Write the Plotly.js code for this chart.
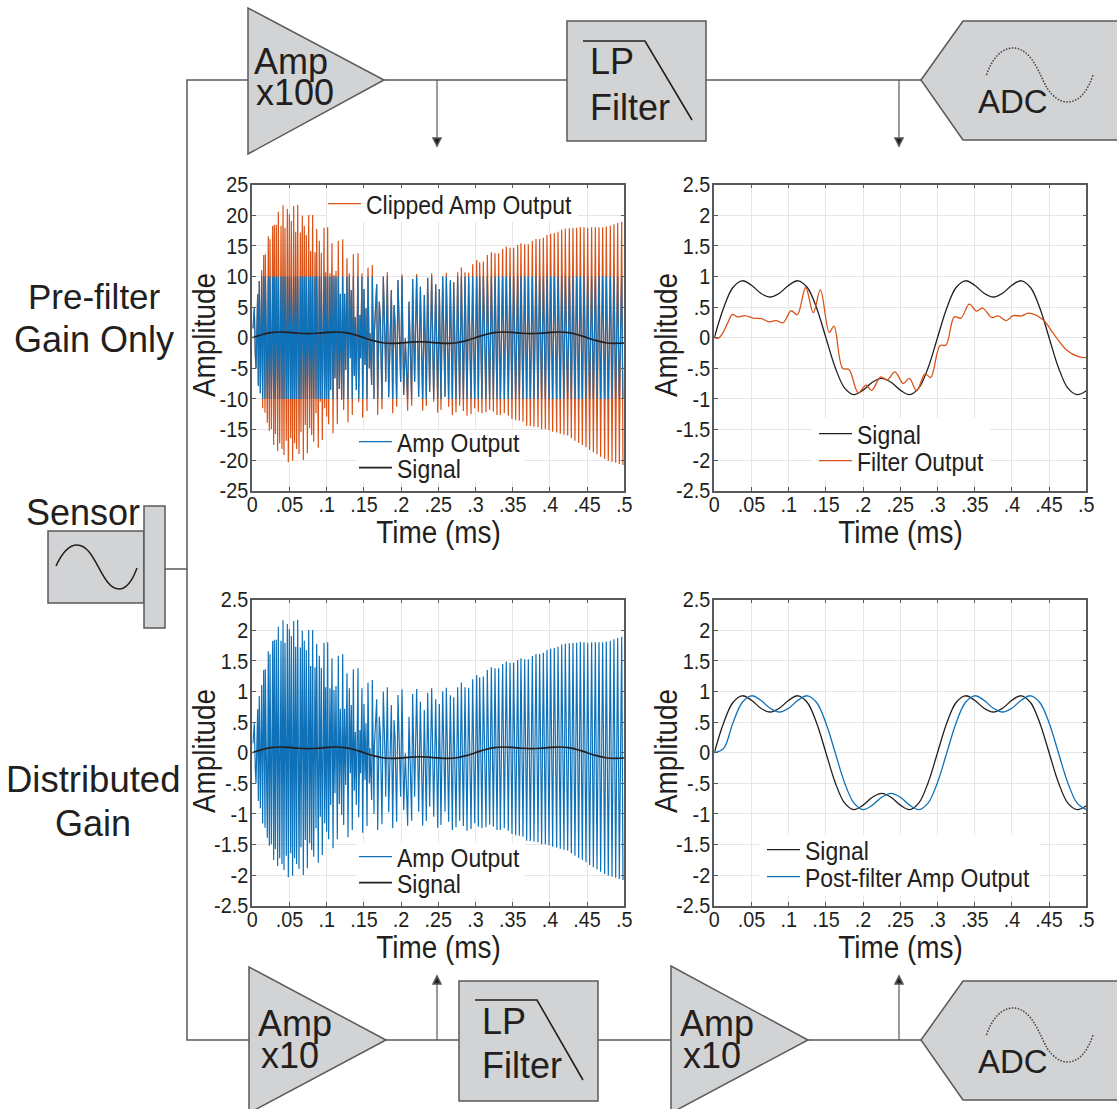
<!DOCTYPE html>
<html>
<head>
<meta charset="utf-8">
<script src="https://cdn.plot.ly/plotly-3.0.1.min.js"></script>
<style>html,body{margin:0;padding:0;background:#fff}#chart{width:1117px;height:1109px}</style>
</head>
<body>
<div id="chart"></div>
<script>
// ---- data ----
const upperTimes = [.0009,.0027,.0072,.0094,.0126,.0153,.0175,.0215,.0238,.0274,.0296,.0323,.0350,.0386,.0413,.0439,.0471,.0498,.0525,.0556,.0583,.0610,.0646,.0672,.0699,.0726,.0758,.0784,.0811,.0843,.0865,.0901,.0928,.0964,.0986,.1013,.1044,.1071,.1098,.1125,.1156,.1183,.1215,.1241,.1273,.1304,.1331,.1358,.1385,.1421,.1447,.1474,.1501,.1528,.1555,.1582,.1613,.1640,.1672,.1707,.1721,.1761,.1788,.1815,.1869,.1905,.1918,.1958,.2012,.2057,.2106,.2155,.2209,.2259,.2312,.2357,.2411,.2465,.2514,.2559,.2608,.2662,.2707,.2760,.2810,.2859,.2908,.2962,.3016,.3056,.3105,.3159,.3213,.3262,.3311,.3365,.3414,.3464,.3513,.3567,.3611,.3661,.3710,.3764,.3813,.3862,.3912,.3961,.4010,.4059,.4109,.4158,.4207,.4261,.4310,.4360,.4409,.4458,.4508,.4561,.4611,.4660,.4709,.4758,.4812,.4861,.4911,.4965];
const upperValues = [.153,.48,.709,.927,1.107,1.352,1.363,1.657,1.608,1.825,1.847,1.847,2.060,1.831,2.163,1.798,2.103,2.016,1.907,2.152,1.733,2.174,1.717,1.994,1.831,1.678,2.005,1.417,2.005,1.395,1.776,1.586,1.384,1.798,1.068,1.804,1.052,1.542,1.025,1.090,1.586,.720,1.608,.720,1.297,1.052,.780,1.363,.339,1.379,.371,1.052,.796,.480,1.145,.072,1.188,.072,.872,.589,.290,1.0,-.282,1.068,.780,.535,.262,.943,1.036,-.01,.589,.959,1.041,.834,.698,.981,1.052,.872,.796,1.003,1.063,.938,.905,1.068,1.145,1.068,1.063,1.2,1.270,1.232,1.243,1.352,1.395,1.379,1.379,1.450,1.488,1.471,1.471,1.515,1.542,1.526,1.526,1.580,1.613,1.613,1.635,1.678,1.700,1.711,1.733,1.766,1.782,1.787,1.793,1.798,1.809,1.804,1.798,1.804,1.804,1.804,1.804,1.815,1.831,1.853,1.875,1.896];
const lowerTimes = [.0041,.0050,.0081,.0108,.0139,.0171,.0202,.0229,.0256,.0287,.0310,.0341,.0368,.0399,.0426,.0457,.0484,.0516,.0542,.0569,.0596,.0628,.0654,.0686,.0713,.0740,.0771,.0798,.0825,.0856,.0887,.0914,.0941,.0973,.0999,.1026,.1053,.1085,.1111,.1143,.1170,.1201,.1228,.1255,.1286,.1318,.1344,.1371,.1398,.1430,.1456,.1483,.1515,.1542,.1573,.1604,.1636,.1685,.1743,.1793,.1833,.1887,.1940,.1994,.2035,.2088,.2142,.2182,.2236,.2290,.2339,.2384,.2438,.2492,.2536,.2590,.2639,.2689,.2738,.2787,.2837,.2886,.2940,.2989,.3038,.3087,.3141,.3190,.3240,.3289,.3334,.3387,.3441,.3490,.3540,.3589,.3638,.3688,.3737,.3786,.3840,.3889,.3939,.3988,.4037,.4091,.4140,.4189,.4239,.4288,.4337,.4387,.4436,.4485,.4534,.4584,.4633,.4682,.4736,.4785,.4835,.4884,.4933,.4982];
const lowerValues = [-.299,-.500,-.789,-.909,-1.154,-1.225,-1.388,-1.519,-1.497,-1.753,-1.573,-1.851,-1.726,-1.818,-1.916,-1.682,-2.036,-1.644,-2.009,-1.726,-1.818,-1.900,-1.546,-1.998,-1.426,-1.889,-1.481,-1.590,-1.699,-1.236,-1.797,-1.045,-1.671,-1.154,-1.290,-1.415,-.854,-1.562,-.664,-1.415,-.838,-1.018,-1.181,-.527,-1.383,-.337,-1.263,-.620,-.854,-1.056,-.337,-1.306,-.446,-1.197,-.500,-.773,-1.001,-1.263,-1.170,-.718,-.974,-1.236,-1.127,-.718,-.936,-1.192,-1.110,-.718,-.963,-1.192,-1.116,-.882,-1.045,-1.225,-1.181,-.963,-1.127,-1.263,-1.219,-1.110,-1.197,-1.274,-1.246,-1.154,-1.208,-1.236,-1.219,-1.176,-1.208,-1.263,-1.263,-1.236,-1.274,-1.328,-1.350,-1.355,-1.372,-1.437,-1.442,-1.453,-1.464,-1.497,-1.497,-1.513,-1.535,-1.551,-1.568,-1.584,-1.600,-1.644,-1.682,-1.720,-1.753,-1.791,-1.835,-1.873,-1.906,-1.944,-1.982,-2.009,-2.025,-2.042,-2.063,-2.080];

const signalTimes = [0,.0125,.025,.0375,.05,.0625,.075,.0875,.1,.1125,.125,.1375,.15,.1625,.175,.1875,.2,.2125,.225,.2375,.25,.2625,.275,.2875,.3,.3125,.325,.3375,.35,.3625,.375,.3875,.4,.4125,.425,.4375,.45,.4625,.475,.4875,.5];
const signalValues = [0,.486,.82,.93,.857,.727,.665,.727,.857,.93,.82,.486,0,-.486,-.82,-.93,-.857,-.727,-.665,-.727,-.857,-.93,-.82,-.486,0,.486,.82,.93,.857,.727,.665,.727,.857,.93,.82,.486,0,-.486,-.82,-.93,-.866];
const postFilterValues = [0,.07,.486,.82,.93,.857,.727,.665,.727,.857,.93,.82,.486,0,-.486,-.82,-.93,-.857,-.727,-.665,-.727,-.857,-.93,-.82,-.486,0,.486,.82,.93,.857,.727,.665,.727,.857,.93,.82,.486,0,-.486,-.82,-.93];

const filterTimes = [0,.0054,.0112,.0175,.0246,.0309,.0412,.0524,.0636,.0739,.0829,.0927,.103,.1116,.1228,.1331,.1425,.1546,.1608,.1725,.181,.1935,.2039,.2115,.2236,.2325,.2428,.254,.2621,.272,.2832,.2908,.3033,.3114,.3226,.3315,.3427,.3526,.3607,.3728,.3817,.392,.4019,.4131,.422,.4422,.4556,.4735,.4892,.5];
const filterValues = [0,-.01,.07,.23,.38,.34,.36,.32,.31,.26,.28,.245,.44,.375,.82,.41,.78,.087,.19,-.5,-.52,-.9,-.775,-.86,-.64,-.69,-.56,-.75,-.665,-.866,-.59,-.65,-.13,-.12,.34,.32,.55,.435,.485,.33,.355,.28,.36,.355,.40,.29,.07,-.2,-.31,-.327];

const timeTicks = [0,.05,.1,.15,.2,.25,.3,.35,.4,.45,.5];
const timeLabels = ['0','.05','.1','.15','.2','.25','.3','.35','.4','.45','.5'];
const bigTicks = [-25,-20,-15,-10,-5,0,5,10,15,20,25];
const bigLabels = ['-25','-20','-15','-10','-5','0','5','10','15','20','25'];
const smallTicks = [-2.5,-2,-1.5,-1,-.5,0,.5,1,1.5,2,2.5];
const smallLabels = ['-2.5','-2','-1.5','-1','-.5','0','.5','1','1.5','2','2.5'];

const clipLevel = 10, topGain = 10, signalScaleBottom = 0.1;

// ---- colours and fonts ----
const BLUE='#0f72b9', ORANGE='#d95319', BLACK='#231f20', BOX='#58595b', FILL='#d1d3d4', GRID='#e6e6e6';
const SANS='"Liberation Sans",Arial,sans-serif';
const CONDENSE=0.9;

// merge upper and lower extrema into a single oscillating line
const ampPairs = upperTimes.map((t,i)=>[t,upperValues[i]]).concat(lowerTimes.map((t,i)=>[t,lowerValues[i]])).sort((a,b)=>a[0]-b[0]);
const ampTimes = ampPairs.map(p=>p[0]);
const ampValues = ampPairs.map(p=>p[1]);
const ampFull = ampValues.map(v=>v*topGain);
const ampClipped = ampFull.map(v=>Math.max(-clipLevel,Math.min(clipLevel,v)));

const W=1117,H=1109;
const X=p=>p/W, Y=p=>1-p/H;
const LEFT=[252.3,624.3], RIGHT=[714.3,1086.3], TOP=[184.7,490.7], BOTTOM=[599.7,905.7];

function line(x,y,xa,ya,color,name,legend,width,spline){
  return {x:x,y:y,xaxis:xa,yaxis:ya,type:'scatter',mode:'lines',name:name,legend:legend,showlegend:true,
    line:{color:color,width:width,simplify:false,shape:spline?'spline':'linear'},hoverinfo:'skip'};
}
const traces=[
  line(ampTimes,ampFull,'x','y',ORANGE,'Clipped Amp Output','legend',1.2),
  line(ampTimes,ampClipped,'x','y',BLUE,'Amp Output','legend2',1.2),
  line(signalTimes,signalValues,'x','y',BLACK,'Signal','legend3',1.7,true),
  line(signalTimes,signalValues,'x2','y2',BLACK,'Signal','legend4',1.3,true),
  line(filterTimes,filterValues,'x2','y2',ORANGE,'Filter Output','legend5',1.3,true),
  line(ampTimes,ampValues,'x3','y3',BLUE,'Amp Output','legend6',1.2),
  line(signalTimes,signalValues.map(v=>v*signalScaleBottom),'x3','y3',BLACK,'Signal','legend7',1.7,true),
  line(signalTimes,signalValues,'x4','y4',BLACK,'Signal','legend8',1.3,true),
  line(signalTimes,postFilterValues,'x4','y4',BLUE,'Post-filter Amp Output','legend9',1.3,true)
];

function xAxis(c,anchor){return {domain:[X(c[0]),X(c[1])],range:[0,.5],anchor:anchor,tickmode:'array',tickvals:timeTicks,ticktext:timeLabels,tickangle:0,
  showline:true,linecolor:BOX,linewidth:1.5,mirror:'ticks',ticks:'inside',ticklen:4,tickcolor:BOX,showgrid:true,gridcolor:GRID,gridwidth:1,zeroline:false,ticklabelstandoff:-7,
  tickfont:{family:SANS,size:22,color:BLACK},title:{text:'Time (ms)',font:{family:SANS,size:31,color:BLACK},standoff:0}};}
function yAxis(c,anchor,tv,tl,lim){return {domain:[Y(c[1]),Y(c[0])],range:[-lim,lim],anchor:anchor,tickmode:'array',tickvals:tv,ticktext:tl,
  showline:true,linecolor:BOX,linewidth:1.5,mirror:'ticks',ticks:'inside',ticklen:4,tickcolor:BOX,showgrid:true,gridcolor:GRID,gridwidth:1,zeroline:false,ticklabelstandoff:-2,
  tickfont:{family:SANS,size:22,color:BLACK},title:{text:'Amplitude',font:{family:SANS,size:31,color:BLACK},standoff:0}};}

function legendAt(px,py){return {x:X(px),y:Y(py),xref:'paper',yref:'paper',xanchor:'left',yanchor:'middle',bgcolor:'rgba(255,255,255,0)',borderwidth:0,
  font:{family:SANS,size:25.5,color:BLACK},itemwidth:33,itemclick:false,itemdoubleclick:false};}

// ---- block diagram ----
const shapes=[];
function pathOf(pts,close){return pts.map((p,i)=>(i?'L':'M')+X(p[0]).toFixed(5)+','+Y(p[1]).toFixed(5)).join(' ')+(close?' Z':'');}
function poly(pts,fill){shapes.push({type:'path',xref:'paper',yref:'paper',path:pathOf(pts,true),fillcolor:fill||FILL,line:{color:BOX,width:1.5},layer:'below'});}
function wire(pts,w,color){shapes.push({type:'path',xref:'paper',yref:'paper',path:pathOf(pts,false),line:{color:color||BOX,width:w||1.5},layer:'below'});}
function curve(x0,y0,segs,dash,w,color){
  let d='M'+X(x0).toFixed(5)+','+Y(y0).toFixed(5);
  segs.forEach(s=>{d+=' C'+s.map((v,i)=>(i%2?Y(v):X(v)).toFixed(5)).join(',');});
  shapes.push({type:'path',xref:'paper',yref:'paper',path:d,line:{color:color||BLACK,width:w||1.5,dash:dash||'solid'},layer:'below'});
}
function arrowDown(x,y0,y1){wire([[x,y0],[x,y1]],1.2);poly([[x-4,y1-8],[x+4,y1-8],[x,y1]],BLACK);}
function arrowUp(x,y0,y1){wire([[x,y0],[x,y1]],1.2);poly([[x-4,y1+8],[x+4,y1+8],[x,y1]],BLACK);}
function amp(x,top,bottom,tip,mid){poly([[x,top],[x,bottom],[tip,mid]]);}
function adc(dy){
  poly([[921,80+dy],[963,21+dy],[1120,21+dy],[1120,140+dy],[963,140+dy]]);
  curve(986.5,75+dy,[[992,58+dy,1002,48+dy,1013,48+dy],[1032,48+dy,1040,76+dy,1047,88+dy],[1052,96+dy,1060,102+dy,1067,102+dy],[1080,102+dy,1088,90+dy,1093,75+dy]],'1.5px,1.5px',1.5,'#414042');
}
function filt(x0,y0,x1,y1,fx0,fy,fx1,fx2,fy2){
  poly([[x0,y0],[x1,y0],[x1,y1],[x0,y1]]);
  wire([[fx0,fy],[fx1,fy],[fx2,fy2]],1.6,BLACK);
}
wire([[248,80],[187,80],[187,1040],[250,1040]],1.5);
wire([[165,569],[187,569]],1.5);
wire([[384,80],[567,80]]);wire([[706,80],[921,80]]);
wire([[386,1040],[459,1040]]);wire([[598,1040],[671,1040]]);wire([[808,1040],[921,1040]]);
arrowDown(437,80,146);arrowDown(899,80,146);arrowUp(437,1040,976);arrowUp(899,1040,976);
amp(248,8,154,384,80);
amp(249,967,1113,386,1040);
amp(671,966,1113,808,1040);
filt(567,21,706,141,583,41,645,692,120);
filt(459,981,598,1101,475,1000,537,583,1080);
adc(0);adc(960);
poly([[48,531],[144,531],[144,603],[48,603]]);
poly([[144,506],[165,506],[165,628],[144,628]]);
curve(56,566,[[62,553,69,545,77,545],[96,545,101,589,119,589],[127,589,133,579,137,568]],'solid',1.5,BLACK);

// white patches that hide the grid behind the legends (between grid and traces)
function patch(xa,ya,xc,yc,limit,x0,x1,y0,y1){
  const dx=p=>(p-xc[0])/(xc[1]-xc[0])*.5;
  const dy=p=>limit-(p-yc[0])/(yc[1]-yc[0])*2*limit;
  shapes.push({type:'rect',xref:xa,yref:ya,layer:'between',x0:dx(x0),x1:dx(x1),y0:dy(y0),y1:dy(y1),fillcolor:'#fff',line:{width:0}});
}
patch('x','y',LEFT,TOP,25,327,578,187,222);
patch('x','y',LEFT,TOP,25,357,525,430,482);
patch('x2','y2',RIGHT,TOP,2.5,812,990,418,480);
patch('x3','y3',LEFT,BOTTOM,2.5,357,525,843,898);
patch('x4','y4',RIGHT,BOTTOM,2.5,759,1040,835,895);

function label(text,x,y,size,anchor){return {text:text,x:X(x),y:Y(y),xref:'paper',yref:'paper',xanchor:anchor||'left',yanchor:'middle',showarrow:false,
  font:{family:SANS,size:size,color:BLACK}};}
const annotations=[
  label('Amp',252,61,36),label('x100',254,93,36),
  label('LP',588,62,36),label('Filter',588,107,36),
  label('ADC',976,101,33),
  label('Sensor',83,512,36,'center'),
  label('Pre-filter',94,297,35,'center'),label('Gain Only',94,340,36,'center'),
  label('Distributed',93,779,36.5,'center'),label('Gain',93,823,36,'center'),
  label('Amp',256,1023,36),label('x10',259,1055,36),
  label('LP',480,1021,36),label('Filter',480,1065,36),
  label('Amp',678,1023,36),label('x10',681,1055,36),
  label('ADC',976,1061,33)
];

const layout={
  width:W,height:H,margin:{l:0,r:0,t:0,b:0},paper_bgcolor:'#fff',plot_bgcolor:'#fff',
  xaxis:xAxis(LEFT,'y'),yaxis:yAxis(TOP,'x',bigTicks,bigLabels,25),
  xaxis2:xAxis(RIGHT,'y2'),yaxis2:yAxis(TOP,'x2',smallTicks,smallLabels,2.5),
  xaxis3:xAxis(LEFT,'y3'),yaxis3:yAxis(BOTTOM,'x3',smallTicks,smallLabels,2.5),
  xaxis4:xAxis(RIGHT,'y4'),yaxis4:yAxis(BOTTOM,'x4',smallTicks,smallLabels,2.5),
  legend:legendAt(323,204),legend2:legendAt(354,442),legend3:legendAt(354,468),
  legend4:legendAt(814,434),legend5:legendAt(814,461),
  legend6:legendAt(354,857),legend7:legendAt(354,883),
  legend8:legendAt(762,850),legend9:legendAt(762,877),
  shapes:shapes,annotations:annotations,showlegend:true
};

// condensed lettering of the reference and exact title placement
const titleCentres={xtitle:[438.5,532.5],x2title:[900.5,532.5],x3title:[438.5,947.5],x4title:[900.5,947.5],
  ytitle:[205,335],y2title:[667,335],y3title:[205,751],y4title:[667,751]};
function finish(){
  const gd=document.getElementById('chart');
  gd.querySelectorAll('.xaxislayer-above text,.yaxislayer-above text,text[class^="legend"],text.xtitle,text.x2title,text.x3title,text.x4title,text.ytitle,text.y2title,text.y3title,text.y4title').forEach(t=>{
    if(t.getAttribute('textLength'))return;
    const len=t.getComputedTextLength();
    if(!len)return;
    t.setAttribute('textLength',(len*CONDENSE).toFixed(1));
    t.setAttribute('lengthAdjust','spacingAndGlyphs');
  });
  Object.keys(titleCentres).forEach(k=>{
    const t=gd.querySelector('text.'+k); if(!t)return;
    const r=t.getBoundingClientRect(), c=titleCentres[k];
    const dx=c[0]-(r.left+r.right)/2, dy=c[1]-(r.top+r.bottom)/2;
    if(Math.abs(dx)<.2&&Math.abs(dy)<.2)return;
    t.setAttribute('transform','translate('+dx.toFixed(1)+','+dy.toFixed(1)+') '+(t.getAttribute('transform')||''));
  });
}
Plotly.newPlot('chart',traces,layout,{displayModeBar:false,responsive:false}).then(()=>{
  finish();
  document.getElementById('chart').on('plotly_afterplot',finish);
  [0,30,100,250].forEach(ms=>setTimeout(finish,ms));
});
</script>
</body>
</html>
